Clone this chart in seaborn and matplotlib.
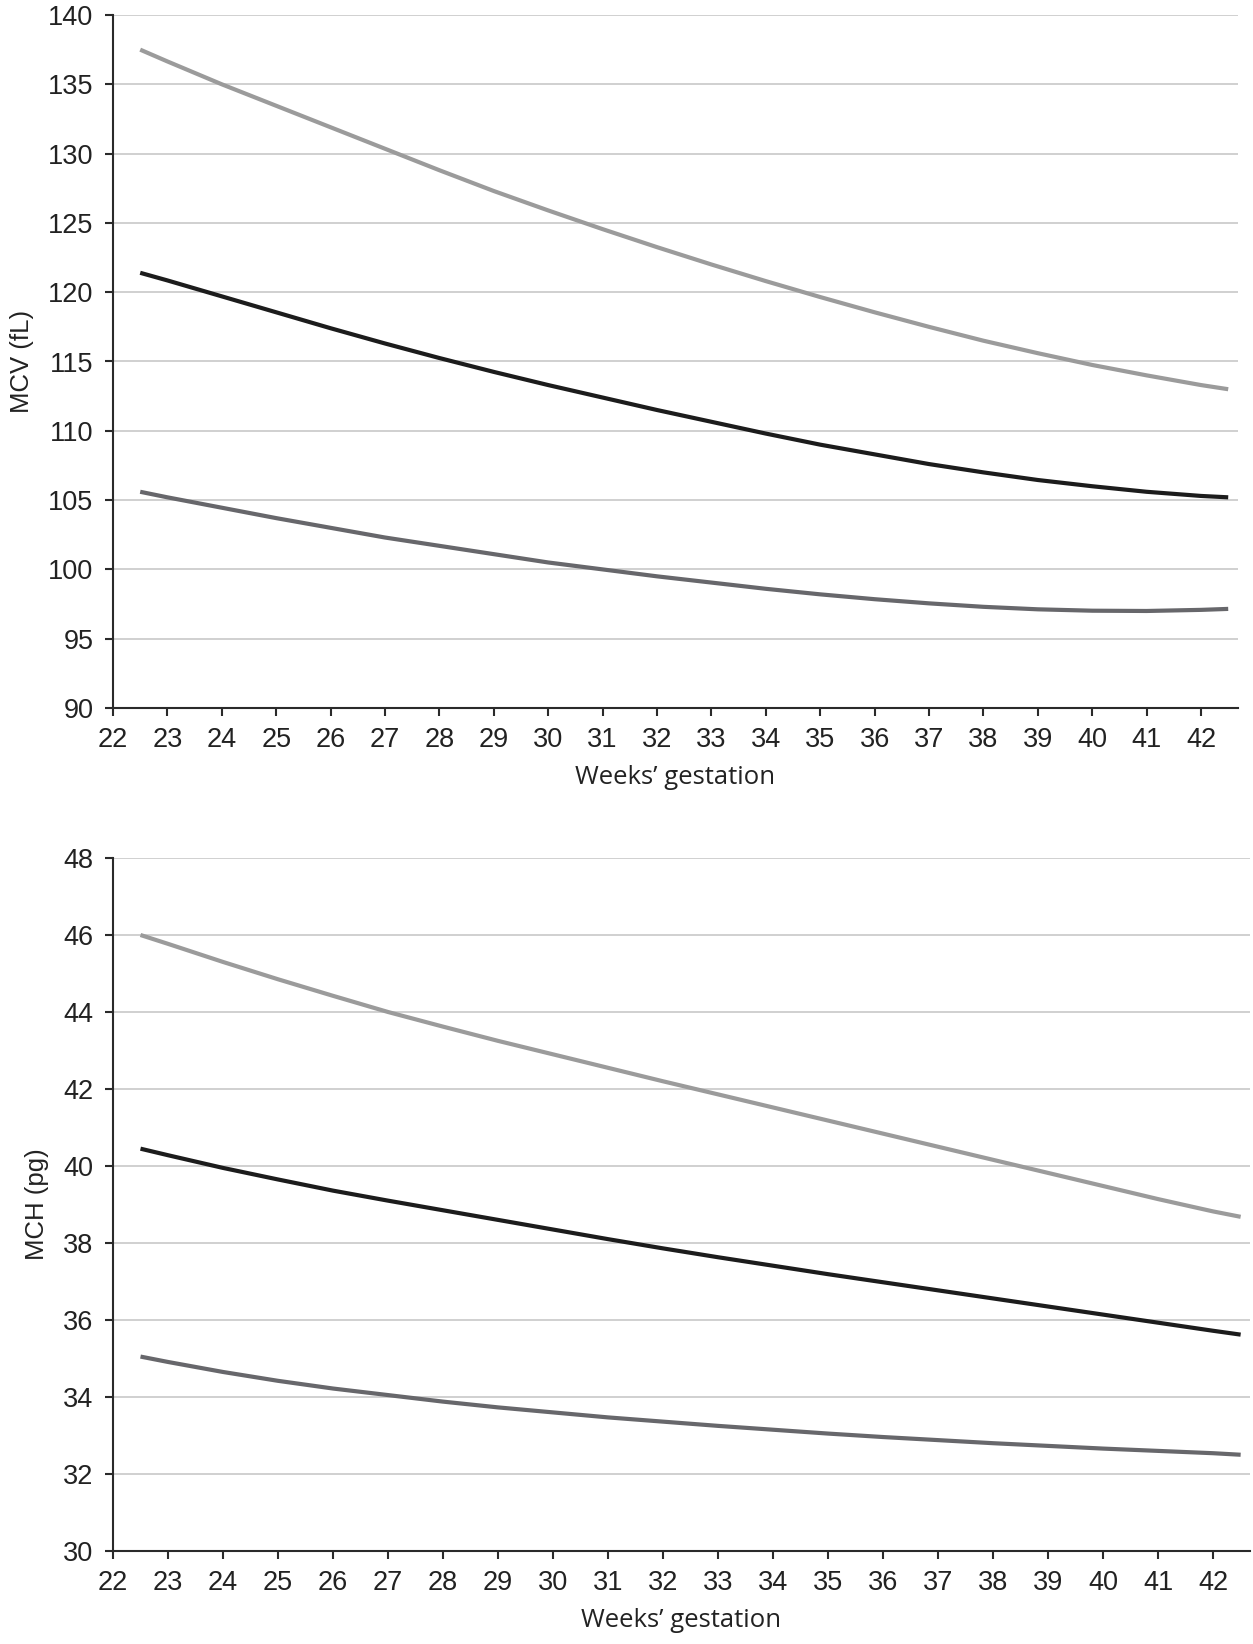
import numpy as np
import pandas as pd
import matplotlib
matplotlib.use("Agg")
import matplotlib.pyplot as plt
import seaborn as sns

weeks = [22.5, 23, 24, 25, 26, 27, 28, 29, 30, 31, 32, 33, 34, 35, 36, 37, 38, 39, 40, 41, 42, 42.5]

mcv_upper = [137.5, 136.65, 135.0, 133.45, 131.9, 130.35, 128.8, 127.3, 125.9, 124.55, 123.25,
             122.0, 120.8, 119.65, 118.55, 117.5, 116.5, 115.6, 114.75, 114.0, 113.3, 113.0]
mcv_median = [121.4, 120.85, 119.7, 118.55, 117.4, 116.3, 115.25, 114.25, 113.3, 112.4, 111.5,
              110.65, 109.8, 109.0, 108.3, 107.6, 107.0, 106.45, 106.0, 105.6, 105.3, 105.2]
mcv_lower = [105.6, 105.2, 104.45, 103.7, 103.0, 102.3, 101.7, 101.1, 100.5, 100.0, 99.5,
             99.05, 98.6, 98.2, 97.85, 97.55, 97.3, 97.12, 97.02, 97.0, 97.08, 97.15]

mch_upper = [46.0, 45.77, 45.3, 44.85, 44.42, 44.0, 43.62, 43.25, 42.9, 42.55, 42.2,
             41.86, 41.52, 41.18, 40.84, 40.5, 40.16, 39.82, 39.48, 39.14, 38.82, 38.68]
mch_median = [40.45, 40.28, 39.95, 39.65, 39.36, 39.1, 38.85, 38.6, 38.35, 38.1, 37.86,
              37.63, 37.41, 37.19, 36.98, 36.77, 36.56, 36.35, 36.14, 35.93, 35.72, 35.62]
mch_lower = [35.05, 34.91, 34.65, 34.42, 34.22, 34.05, 33.88, 33.73, 33.6, 33.47, 33.36,
             33.25, 33.15, 33.05, 32.96, 32.88, 32.8, 32.73, 32.66, 32.6, 32.54, 32.5]

x_ticks = list(range(22, 43))
mcv_ticks = list(range(90, 141, 5))
mch_ticks = list(range(30, 49, 2))

xlabel = "Weeks\u2019 gestation"
mcv_label = "MCV (fL)"
mch_label = "MCH (pg)"

sns.set_style("white")
plt.rcParams["font.family"] = ["Liberation Sans", "DejaVu Sans"]

W, H = 1253, 1644
fig = plt.figure(figsize=(W / 100, H / 100), dpi=100)

colors = {"upper": "#9b9b9b", "median": "#1c1c1c", "lower": "#67676b"}

def draw(ax, upper, median, lower, yticks, ylabel, xmax):
    for vals, key in [(upper, "upper"), (lower, "lower"), (median, "median")]:
        df = pd.DataFrame({"week": weeks, "val": vals})
        sns.lineplot(data=df, x="week", y="val", ax=ax, color=colors[key],
                     linewidth=3.0, solid_capstyle="butt")
    ax.set_xlim(22, xmax)
    ax.set_ylim(yticks[0], yticks[-1])
    ax.set_xticks(x_ticks)
    ax.set_yticks(yticks)
    ax.yaxis.grid(True, color="#c8c8c8", linewidth=1.2)
    ax.xaxis.grid(False)
    ax.set_axisbelow(True)
    for s in ["top", "right"]:
        ax.spines[s].set_visible(False)
    for s in ["left", "bottom"]:
        ax.spines[s].set_color("#2a2a2a")
        ax.spines[s].set_linewidth(1.5)
    ax.tick_params(axis="both", which="major", direction="out", length=6, width=1.5,
                   color="#2a2a2a", labelsize=19.5, labelcolor="#222222", pad=8,
                   left=True, bottom=True)
    ax.set_xlabel(xlabel, fontsize=18.5, family=["Open Sans", "DejaVu Sans"],
                  color="#222222", labelpad=8)
    ax.set_ylabel(ylabel, fontsize=18.5, color="#222222", labelpad=10)

ax1 = fig.add_axes([113 / W, 1 - 708 / H, (1238 - 113) / W, (708 - 15) / H])
draw(ax1, mcv_upper, mcv_median, mcv_lower, mcv_ticks, mcv_label, 42.68)

ax2 = fig.add_axes([113 / W, 1 - 1551 / H, (1250 - 113) / W, (1551 - 858) / H])
draw(ax2, mch_upper, mch_median, mch_lower, mch_ticks, mch_label, 42.67)

fig.savefig("out.png", dpi=100, facecolor="white")
